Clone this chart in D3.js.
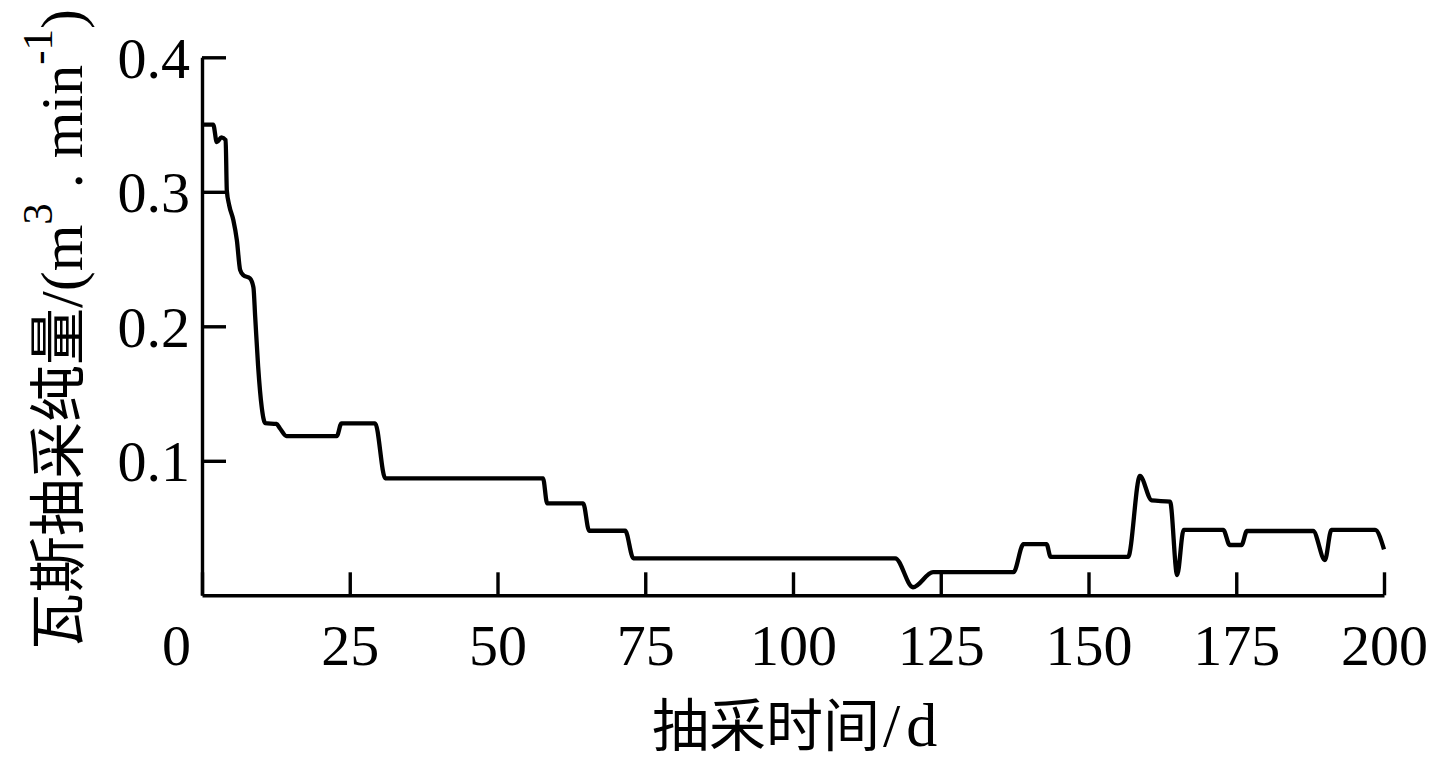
<!DOCTYPE html>
<html>
<head>
<meta charset="utf-8">
<script src="https://cdn.jsdelivr.net/npm/d3@7"></script>
<style>
  html, body { margin: 0; padding: 0; background: #fff; }
  svg { display: block; }
  text { font-family: "Liberation Serif", "Times New Roman", "Noto Sans CJK SC", serif; fill: #000; }
</style>
</head>
<body>
<svg id="chart" width="1433" height="763"></svg>
<script>
// Extraction time (days)
const days = [0.2, 1.9, 2.5, 3.3, 4.0, 4.2, 4.6, 5.3, 5.9, 6.45, 7.0, 8.1, 8.7, 9.0, 9.5, 10.1, 10.7, 12.6, 13.2, 14.3,
  22.8, 23.6, 29.3, 31.0, 57.7, 58.4, 64.5, 65.5, 71.6, 73.0, 117.3, 120.3, 123.7, 137.3, 139.0, 142.9, 143.6,
  156.7, 158.7, 160.7, 163.8, 165.0, 166.1, 172.8, 173.9, 175.9, 176.8, 188.0, 190.0, 191.1, 198.5, 200.0];
// Pure gas extraction (m3/min)
const flow = [0.350, 0.350, 0.337, 0.3405, 0.3385, 0.301, 0.290, 0.279, 0.264, 0.242, 0.238, 0.2357, 0.229, 0.207, 0.170, 0.140, 0.128, 0.1274, 0.124, 0.1184,
  0.1184, 0.1279, 0.1279, 0.087, 0.087, 0.0684, 0.0684, 0.048, 0.048, 0.0275, 0.0275, 0.006, 0.0172, 0.0172, 0.038, 0.038, 0.0285,
  0.0285, 0.0887, 0.0705, 0.0696, 0.0151, 0.0486, 0.0486, 0.0374, 0.0374, 0.0478, 0.0478, 0.0262, 0.0486, 0.0486, 0.0342];
const xTicks = [0, 25, 50, 75, 100, 125, 150, 175, 200];
const yTicks = [0.1, 0.2, 0.3, 0.4];
const xTickLabels = ["0", "25", "50", "75", "100", "125", "150", "175", "200"];
const yTickLabels = ["0.1", "0.2", "0.3", "0.4"];

const svg = d3.select("#chart");
const mLeft = 202, mRight = 1384, mTop = 57.3, mBottom = 595.3;

const x = d3.scaleLinear().domain([0, 200]).range([mLeft, mRight]);
const y = d3.scaleLinear().domain([0, 0.4]).range([mBottom, mTop]);

// X axis
const gx = svg.append("g").attr("transform", `translate(0,${mBottom})`)
  .call(d3.axisBottom(x).tickValues(xTicks).tickFormat((d, i) => xTickLabels[i])
    .tickSizeInner(-23).tickSizeOuter(0).tickPadding(29));
gx.select(".domain").attr("stroke", "#000").attr("stroke-width", 3.4);
gx.selectAll(".tick line").attr("stroke", "#000").attr("stroke-width", 3.4);
gx.selectAll(".tick text").attr("font-size", 58).attr("font-family", null)
  .attr("dx", d => d === 0 ? -26 : 0);

// Y axis
const gy = svg.append("g").attr("transform", `translate(${mLeft},0)`)
  .call(d3.axisLeft(y).tickValues(yTicks).tickFormat((d, i) => yTickLabels[i])
    .tickSizeInner(-24).tickSizeOuter(0).tickPadding(12));
gy.select(".domain").attr("stroke", "#000").attr("stroke-width", 3.4);
gy.selectAll(".tick line").attr("stroke", "#000").attr("stroke-width", 3.4);
gy.selectAll(".tick text").attr("font-size", 58).attr("font-family", null).attr("dy", "0.34em");

// Line
const pts = days.map((d, i) => [d, flow[i]]);
const line = d3.line().x(d => x(d[0])).y(d => y(d[1])).curve(d3.curveMonotoneX);
svg.append("path").datum(pts).attr("d", line)
  .attr("fill", "none").attr("stroke", "#000").attr("stroke-width", 4.3)
  .attr("stroke-linejoin", "round");

// X axis title
const xt = svg.append("text").attr("x", 652).attr("y", 746).attr("text-anchor", "start");
xt.append("tspan").attr("font-size", 57).text("抽采时间");
xt.append("tspan").attr("font-size", 62).attr("dx", 3).text("/");
xt.append("tspan").attr("font-size", 62).attr("dx", 6).text("d");

// Y axis title
const yt = svg.append("text").attr("transform", "translate(82,650) rotate(-90)")
  .attr("text-anchor", "start").attr("font-size", 60).style("white-space", "pre");
yt.append("tspan").attr("font-size", 57).attr("dy", -4).text("瓦斯抽采纯量");
yt.append("tspan").attr("dy", 4).text("/(m");
yt.append("tspan").attr("font-size", 43).attr("dy", -30).text("3");
yt.append("tspan").attr("dy", 30).text(" . min");
yt.append("tspan").attr("font-size", 43).attr("dy", -30).text("-1");
yt.append("tspan").attr("dy", 30).text(")");
</script>
</body>
</html>
